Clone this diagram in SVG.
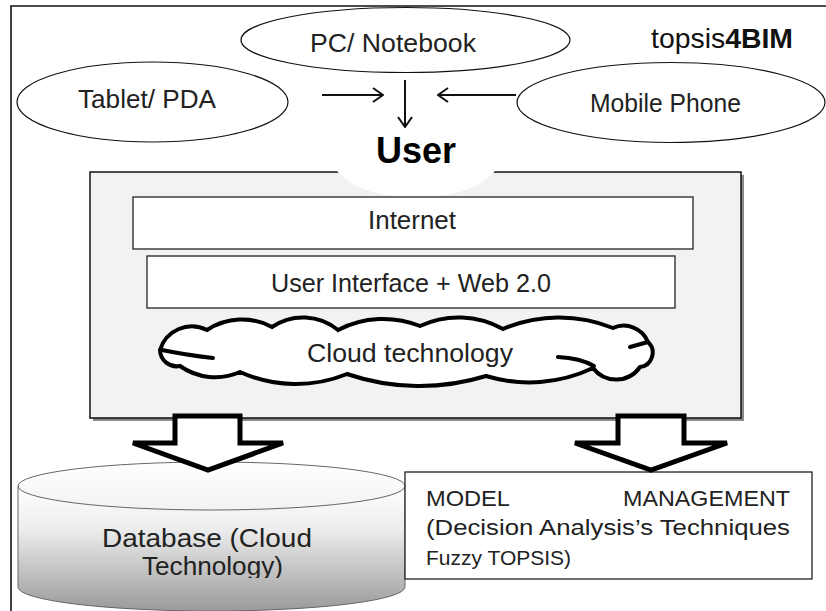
<svg xmlns="http://www.w3.org/2000/svg" width="826" height="611" viewBox="0 0 826 611">
<style>
.t{font-family:"Century Gothic","URW Gothic","Liberation Sans",Arial,sans-serif;fill:#222}
.ell{fill:#fff;stroke:#111;stroke-width:1.2}
.box{fill:#fff;stroke:#222;stroke-width:1.3}
.conn{stroke:#111;stroke-width:2;fill:none}
.block{fill:#fff;stroke:#000;stroke-width:5;stroke-linejoin:miter}
.cloud{fill:#fff;stroke:#000;stroke-width:4}
.curl{fill:none;stroke:#000;stroke-width:4;stroke-linecap:round}
</style>
<defs>
<marker id="open" viewBox="0 0 12 16" refX="11" refY="8" markerWidth="12" markerHeight="16" markerUnits="userSpaceOnUse" orient="auto">
<path d="M1,1 L11,8 L1,15" fill="none" stroke="#111" stroke-width="2"/>
</marker>
<linearGradient id="cyl" x1="0" y1="0" x2="0" y2="1">
<stop offset="0" stop-color="#ffffff"/>
<stop offset="0.35" stop-color="#ececec"/>
<stop offset="1" stop-color="#9a9a9a"/>
</linearGradient>
<linearGradient id="cyltop" x1="0" y1="0" x2="0" y2="1">
<stop offset="0" stop-color="#ffffff"/>
<stop offset="1" stop-color="#f3f3f3"/>
</linearGradient>
<clipPath id="clipDb"><rect x="0" y="0" width="826" height="578"/></clipPath>
</defs>

<rect width="826" height="611" fill="#fff"/>
<path id="frame" d="M11,611 V6 H826" fill="none" stroke="#111" stroke-width="1.6"/>

<g id="pc">
<ellipse class="ell" cx="405.5" cy="40" rx="164.5" ry="32.5"/>
<text class="t" x="393" y="52" font-size="26" text-anchor="middle" textLength="166" lengthAdjust="spacingAndGlyphs">PC/ Notebook</text>
</g>
<g id="tablet">
<ellipse class="ell" cx="152.5" cy="102" rx="135.5" ry="40"/>
<text class="t" x="147" y="108" font-size="25" text-anchor="middle" textLength="138" lengthAdjust="spacingAndGlyphs">Tablet/ PDA</text>
</g>
<g id="mobile">
<ellipse class="ell" cx="671" cy="102.5" rx="154" ry="40"/>
<text class="t" x="665.5" y="112" font-size="25" text-anchor="middle" textLength="151" lengthAdjust="spacingAndGlyphs">Mobile Phone</text>
</g>
<g id="title">
<text x="651" y="48" font-family="'Liberation Sans',Arial,sans-serif" font-size="28" fill="#111" textLength="142" lengthAdjust="spacingAndGlyphs">topsis<tspan font-weight="bold">4BIM</tspan></text>
</g>

<g id="platform">
<rect x="93" y="175" width="651" height="246" fill="#8a8a8a"/>
<rect x="90" y="172" width="651" height="246" fill="#f2f2f2" stroke="#111" stroke-width="1.5"/>
</g>

<g id="user">
<ellipse cx="416" cy="155" rx="85" ry="43" fill="#fff"/>
<text x="416" y="163" font-family="'Liberation Sans',Arial,sans-serif" font-size="36" font-weight="bold" fill="#000" text-anchor="middle">User</text>
</g>

<g id="internet">
<rect class="box" x="133" y="197" width="560" height="52"/>
<text class="t" x="412" y="229" font-size="26" text-anchor="middle" textLength="88" lengthAdjust="spacingAndGlyphs">Internet</text>
</g>
<g id="ui">
<rect class="box" x="147" y="256" width="528" height="52"/>
<text class="t" x="411" y="292" font-size="25" text-anchor="middle" textLength="280" lengthAdjust="spacingAndGlyphs">User Interface + Web 2.0</text>
</g>
<g id="cloud">
<path class="cloud" d="M160,350 A33.2,33.2 0 0 1 207,330 A63.3,63.3 0 0 1 272,327 A55.1,55.1 0 0 1 338,330 A98.1,98.1 0 0 1 420,326 A91.2,91.2 0 0 1 503,329 A143,143 0 0 1 613,328 A26.2,26.2 0 0 1 648,342 A14.5,14.5 0 0 1 640,367 A29,29 0 0 1 593,368 A149,149 0 0 1 486,376 A225,225 0 0 1 347,374 A135.6,135.6 0 0 1 240,372 A61,61 0 0 1 180,366 A16.7,16.7 0 0 1 160,350 Z"/>
<path class="curl" d="M162,350 Q186,355 213,358"/>
<path class="curl" d="M630,347 L648,342"/>
<path class="curl" d="M558,357 Q580,358 594,366"/>
<text class="t" x="410" y="362" font-size="26" text-anchor="middle" textLength="206" lengthAdjust="spacingAndGlyphs">Cloud technology</text>
</g>

<g id="database">
<path d="M18,486 V587 A193.5,24 0 0 0 405,587 V486" fill="url(#cyl)" stroke="#666" stroke-width="1"/>
<ellipse cx="211.5" cy="486" rx="193.5" ry="24" fill="url(#cyltop)" stroke="#666" stroke-width="1"/>
<g clip-path="url(#clipDb)">
<text class="t" x="207" y="547" font-size="25" text-anchor="middle" textLength="210" lengthAdjust="spacingAndGlyphs">Database (Cloud</text>
<text class="t" x="212.5" y="575" font-size="25" text-anchor="middle" textLength="141" lengthAdjust="spacingAndGlyphs">Technology)</text>
</g>
</g>

<g id="model">
<rect x="405" y="472" width="407" height="107" fill="#fff" stroke="#222" stroke-width="1.3"/>
<text class="t" x="426" y="506" font-size="22" textLength="84" lengthAdjust="spacingAndGlyphs">MODEL</text>
<text class="t" x="790" y="506" font-size="22" text-anchor="end" textLength="167" lengthAdjust="spacingAndGlyphs">MANAGEMENT</text>
<text class="t" x="426" y="535" font-size="22" textLength="364" lengthAdjust="spacingAndGlyphs">(Decision Analysis’s Techniques</text>
<text class="t" x="426" y="565" font-size="21">Fuzzy TOPSIS)</text>
</g>

<g id="connectors">
<line class="conn" x1="322" y1="95" x2="383" y2="95" marker-end="url(#open)"/>
<line class="conn" x1="405" y1="80" x2="405" y2="127" marker-end="url(#open)"/>
<line class="conn" x1="516" y1="95" x2="438" y2="95" marker-end="url(#open)"/>
<polygon class="block" points="175,416 240,416 240,443 283,443 208,470 133,443 175,443"/>
<polygon class="block" points="618,416 684,416 684,443 727,443 651,470 575,443 618,443"/>
</g>
</svg>
